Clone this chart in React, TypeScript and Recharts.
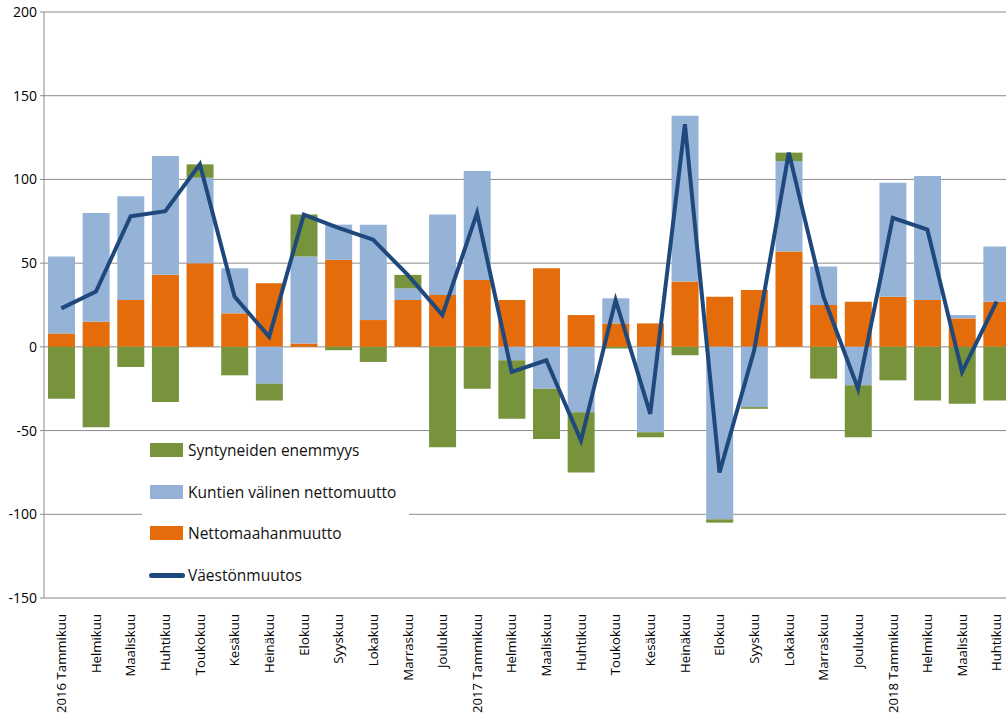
import React from "react";
import {
  ComposedChart,
  Bar,
  Line,
  XAxis,
  YAxis,
  CartesianGrid,
  Legend,
} from "recharts";

// Category labels (months)
const months: string[] = [
  "2016 Tammikuu", "Helmikuu", "Maaliskuu", "Huhtikuu", "Toukokuu", "Kesäkuu",
  "Heinäkuu", "Elokuu", "Syyskuu", "Lokakuu", "Marraskuu", "Joulukuu",
  "2017 Tammikuu", "Helmikuu", "Maaliskuu", "Huhtikuu", "Toukokuu", "Kesäkuu",
  "Heinäkuu", "Elokuu", "Syyskuu", "Lokakuu", "Marraskuu", "Joulukuu",
  "2018 Tammikuu", "Helmikuu", "Maaliskuu", "Huhtikuu",
];

// Nettomaahanmuutto (orange)
const nettomaahanmuutto: number[] = [
  8, 15, 28, 43, 50, 20, 38, 2, 52, 16, 28, 31,
  40, 28, 47, 19, 14, 14, 39, 30, 34, 57, 25, 27,
  30, 28, 17, 27,
];

// Kuntien välinen nettomuutto (light blue)
const kuntienValinen: number[] = [
  46, 65, 62, 71, 51, 27, -22, 52, 21, 57, 7, 48,
  65, -8, -25, -39, 15, -51, 99, -103, -36, 54, 23, -23,
  68, 74, 2, 33,
];

// Syntyneiden enemmyys (green)
const syntyneidenEnemmyys: number[] = [
  -31, -48, -12, -33, 8, -17, -10, 25, -2, -9, 8, -60,
  -25, -35, -30, -36, -1, -3, -5, -2, -1, 5, -19, -31,
  -20, -32, -34, -32,
];

// Väestönmuutos (line)
const vaestonmuutos: number[] = [
  23, 33, 78, 81, 109, 30, 6, 79, 71, 64, 43, 19,
  80, -15, -8, -56, 28, -40, 133, -75, -2, 116, 30, -25,
  77, 70, -15, 27,
];

const yTicks: number[] = [-150, -100, -50, 0, 50, 100, 150, 200];

const COLORS = {
  orange: "#E46C0A",
  blue: "#95B3D7",
  green: "#77933C",
  line: "#1F497D",
  grid: "#8C8C8C",
};

const data = months.map((m, i) => ({
  idx: i,
  label: m,
  netto: nettomaahanmuutto[i],
  kunta: kuntienValinen[i],
  synt: syntyneidenEnemmyys[i],
  vaesto: vaestonmuutos[i],
}));

const XTick = (props: any) => {
  const { x, y, payload } = props;
  const label = months[payload.value] ?? "";
  return (
    <text
      x={x}
      y={y + 8}
      transform={`rotate(-90, ${x}, ${y + 8})`}
      textAnchor="end"
      dy="0.36em"
      fontFamily="'Open Sans', sans-serif"
      fontSize={13.2}
      fill="#000"
    >
      {label}
    </text>
  );
};

const legendItems = [
  { label: "Syntyneiden enemmyys", color: COLORS.green, kind: "rect" },
  { label: "Kuntien välinen nettomuutto", color: COLORS.blue, kind: "rect" },
  { label: "Nettomaahanmuutto", color: COLORS.orange, kind: "rect" },
  { label: "Väestönmuutos", color: COLORS.line, kind: "line" },
];

const LegendBox = () => (
  <div
    style={{
      width: 267,
      height: 156,
      background: "#fff",
      position: "relative",
      fontFamily: "'Open Sans', sans-serif",
      fontSize: 15.5,
      color: "#111",
    }}
  >
    {legendItems.map((it, i) => (
      <div
        key={it.label}
        style={{
          position: "absolute",
          left: 0,
          top: 14 + i * 41.7 - 12,
          height: 24,
          width: 267,
          display: "flex",
          alignItems: "center",
        }}
      >
        {it.kind === "rect" ? (
          <div
            style={{
              marginLeft: 8,
              width: 33,
              height: 14,
              background: it.color,
            }}
          />
        ) : (
          <div
            style={{
              marginLeft: 7,
              width: 36,
              height: 5,
              borderRadius: 3,
              background: it.color,
            }}
          />
        )}
        <span style={{ marginLeft: it.kind === "rect" ? 5 : 3, whiteSpace: "nowrap" }}>
          {it.label}
        </span>
      </div>
    ))}
  </div>
);

export default function App() {
  return (
    <div
      style={{
        position: "absolute",
        left: 0,
        top: 0,
        width: 1006,
        height: 719,
        overflow: "hidden",
        background: "#fff",
      }}
    >
      <ComposedChart
        width={1014}
        height={719}
        data={data}
        stackOffset="sign"
        margin={{ top: 12, right: 0, bottom: 0, left: 6 }}
      >
        <CartesianGrid vertical={false} stroke={COLORS.grid} strokeWidth={1} />
        <XAxis
          dataKey="idx"
          type="category"
          interval={0}
          tickLine={false}
          axisLine={{ stroke: "#BFBFBF", strokeWidth: 1.5 }}
          tick={<XTick />}
          height={121}
        />
        <YAxis
          domain={[-150, 200]}
          ticks={yTicks}
          interval={0}
          width={38}
          tickLine={{ stroke: COLORS.grid }}
          tickSize={4}
          axisLine={{ stroke: COLORS.grid }}
          tick={{
            fontFamily: "'Liberation Sans Narrow', 'Open Sans', sans-serif",
            fontSize: 14,
            fill: "#000",
          }}
          tickMargin={3}
        />
        <Legend
          layout="vertical"
          align="center"
          verticalAlign="middle"
          wrapperStyle={{ left: 142, top: 436, width: 267, height: 156 }}
          content={() => <LegendBox />}
        />
        <Bar dataKey="netto" stackId="a" fill={COLORS.orange} isAnimationActive={false} barSize={27} />
        <Bar dataKey="kunta" stackId="a" fill={COLORS.blue} isAnimationActive={false} barSize={27} />
        <Bar dataKey="synt" stackId="a" fill={COLORS.green} isAnimationActive={false} barSize={27} />
        <Line
          dataKey="vaesto"
          type="linear"
          stroke={COLORS.line}
          strokeWidth={4}
          dot={false}
          activeDot={false}
          isAnimationActive={false}
        />
      </ComposedChart>
    </div>
  );
}
